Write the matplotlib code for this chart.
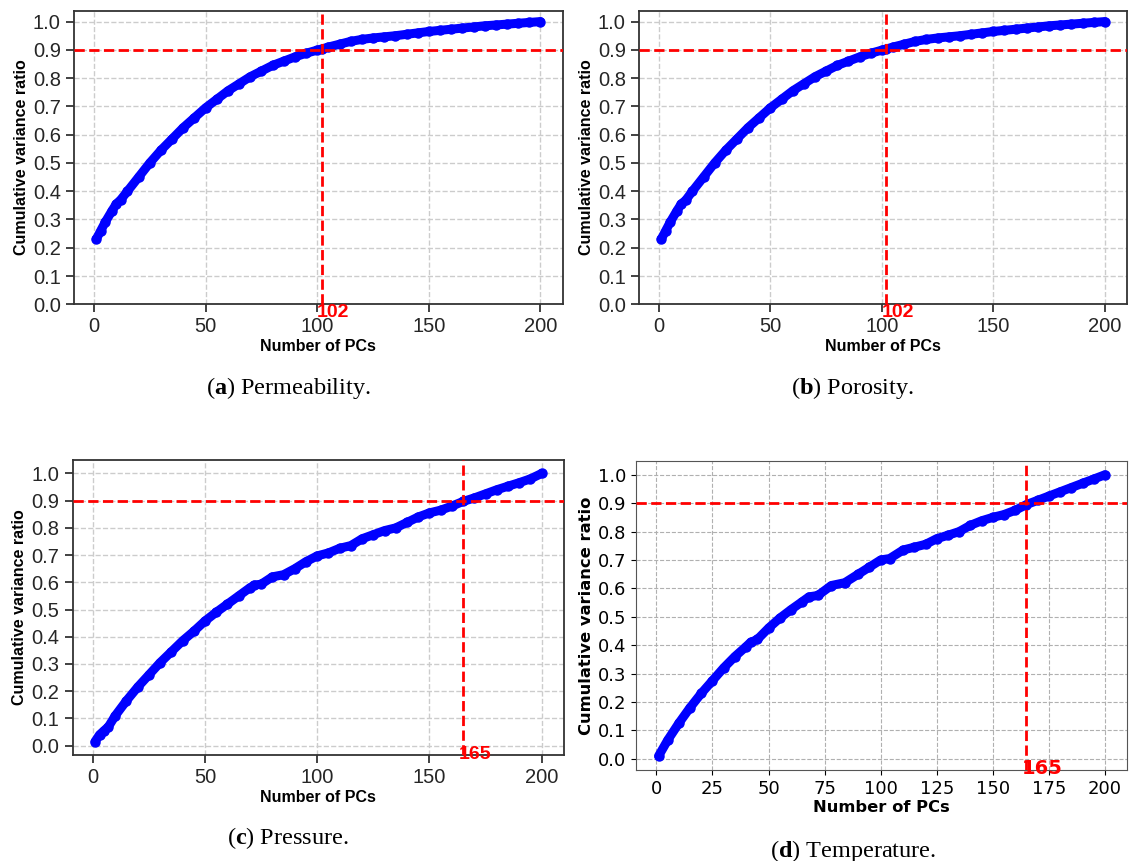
import numpy as np
import matplotlib
matplotlib.use("Agg")
import matplotlib.pyplot as plt

plt.rcParams["mathtext.fontset"] = "custom"
plt.rcParams["mathtext.rm"] = "Liberation Serif"
plt.rcParams["mathtext.bf"] = "Liberation Serif:bold"

# ------------------------------------------------------------------
# data
# ------------------------------------------------------------------
perm_pc = [1, 3, 5, 8, 10, 12, 15, 20, 25, 30, 35, 40, 45, 50, 55, 60, 65, 70,
           75, 80, 85, 90, 95, 100, 102, 105, 110, 115, 120, 125, 130, 135,
           140, 145, 150, 155, 160, 165, 170, 175, 180, 185, 190, 195, 200]
perm_cvr = [0.23, 0.26, 0.29, 0.33, 0.355, 0.37, 0.40, 0.45, 0.50, 0.545, 0.585,
            0.625, 0.66, 0.695, 0.725, 0.755, 0.78, 0.805, 0.825, 0.845, 0.86,
            0.875, 0.888, 0.899, 0.903, 0.91, 0.92, 0.93, 0.937, 0.942, 0.946,
            0.950, 0.955, 0.960, 0.965, 0.969, 0.973, 0.977, 0.981, 0.985,
            0.988, 0.991, 0.994, 0.997, 1.0]

poro_pc = [1, 3, 5, 8, 10, 12, 15, 20, 25, 30, 35, 40, 45, 50, 55, 60, 65, 70,
           75, 80, 85, 90, 95, 100, 102, 105, 110, 115, 120, 125, 130, 135,
           140, 145, 150, 155, 160, 165, 170, 175, 180, 185, 190, 195, 200]
poro_cvr = [0.23, 0.26, 0.29, 0.33, 0.355, 0.368, 0.40, 0.45, 0.50, 0.545, 0.585,
            0.625, 0.66, 0.695, 0.725, 0.755, 0.78, 0.805, 0.825, 0.845, 0.86,
            0.875, 0.888, 0.899, 0.903, 0.91, 0.92, 0.93, 0.937, 0.942, 0.946,
            0.950, 0.955, 0.960, 0.965, 0.969, 0.973, 0.977, 0.981, 0.985,
            0.988, 0.991, 0.994, 0.997, 1.0]

pres_pc = [1, 3, 5, 7, 10, 15, 20, 25, 30, 35, 40, 45, 50, 55, 60, 65, 70, 72,
           75, 80, 85, 90, 95, 100, 105, 110, 115, 120, 125, 130, 135, 140, 145,
           150, 155, 160, 165, 170, 175, 180, 185, 190, 195, 200]
pres_cvr = [0.015, 0.04, 0.055, 0.07, 0.11, 0.165, 0.215, 0.26, 0.305, 0.345,
            0.385, 0.42, 0.458, 0.49, 0.52, 0.55, 0.58, 0.59, 0.593, 0.62, 0.628,
            0.65, 0.676, 0.697, 0.708, 0.725, 0.735, 0.76, 0.775, 0.79, 0.80,
            0.82, 0.84, 0.855, 0.865, 0.88, 0.897, 0.91, 0.925, 0.94, 0.953,
            0.966, 0.98, 1.0]

temp_pc = [1, 5, 10, 15, 20, 25, 30, 35, 40, 42, 45, 50, 55, 60, 65, 68, 72,
           78, 84, 90, 95, 100, 104, 110, 115, 120, 125, 130, 135, 140, 145,
           150, 155, 160, 165, 170, 175, 180, 185, 190, 195, 200]
temp_cvr = [0.01, 0.065, 0.125, 0.18, 0.23, 0.275, 0.32, 0.36, 0.395, 0.41,
            0.42, 0.46, 0.495, 0.525, 0.553, 0.57, 0.575, 0.61, 0.62, 0.65,
            0.675, 0.70, 0.705, 0.735, 0.745, 0.755, 0.775, 0.787, 0.80, 0.822,
            0.838, 0.85, 0.86, 0.875, 0.895, 0.91, 0.925, 0.94, 0.955, 0.97,
            0.985, 1.0]

THRESH = 0.9
perm_k, poro_k, pres_k, temp_k = 102, 102, 165, 165

captions = ["a", "b", "c", "d"]
caption_names = ["Permeability.", "Porosity.", "Pressure.", "Temperature."]

# ------------------------------------------------------------------
# figure
# ------------------------------------------------------------------
W, H = 1129, 861
fig = plt.figure(figsize=(W / 100, H / 100), dpi=100)


def px_axes(left, top, right, bottom):
    return fig.add_axes([left / W, 1 - bottom / H, (right - left) / W, (bottom - top) / H])


def draw_panel(ax, pcs, cvr, k, font, sns_look, floor_zero):
    ax.plot(pcs, cvr, marker="o", color="blue", markersize=6.5, linewidth=6.5,
            solid_capstyle="round", solid_joinstyle="round", zorder=3)
    if floor_zero:
        ax.set_ylim(bottom=0)
    ax.axhline(THRESH, color="red", linestyle="--", linewidth=2, zorder=4)
    ax.axvline(k, color="red", linestyle="--", linewidth=2, zorder=4)
    ax.text(k - 2, 0, str(k), color="red", fontsize=14, fontweight="bold",
            ha="left", va="top", family=font, zorder=5)
    ax.set_yticks(np.arange(0, 1.01, 0.1))
    if sns_look:
        ax.set_xticks(np.arange(0, 201, 50))
        ax.grid(True, linestyle="--", color="#cccccc", linewidth=1)
        for s in ax.spines.values():
            s.set_color("#333333")
            s.set_linewidth(1.3)
        ax.tick_params(direction="out", length=6, width=1.3, color="#333333",
                       labelsize=14.5, labelcolor="#262626")
    else:
        ax.set_xticks(np.arange(0, 201, 25))
        ax.grid(True, linestyle="--", color="#b0b0b0", linewidth=0.8)
        for s in ax.spines.values():
            s.set_color("#555555")
        ax.tick_params(direction="out", labelsize=13)
    for lab in ax.get_xticklabels() + ax.get_yticklabels():
        lab.set_family(font)
    ax.set_axisbelow(True)
    lsize = 11.5 if sns_look else 11.8
    ax.set_xlabel("Number of PCs", fontsize=lsize, fontweight="bold", family=font,
                  labelpad=2)
    ax.set_ylabel("Cumulative variance ratio", fontsize=lsize, fontweight="bold",
                  family=font, labelpad=3)


ax_a = px_axes(74, 10.7, 562.7, 304.3)
draw_panel(ax_a, perm_pc, perm_cvr, perm_k, "Liberation Sans", True, True)

ax_b = px_axes(639, 10.7, 1127, 304.3)
draw_panel(ax_b, poro_pc, poro_cvr, poro_k, "Liberation Sans", True, True)

ax_c = px_axes(72.7, 460, 564, 755)
draw_panel(ax_c, pres_pc, pres_cvr, pres_k, "Liberation Sans", True, False)

ax_d = px_axes(636.3, 460.7, 1127.3, 770)
draw_panel(ax_d, temp_pc, temp_cvr, temp_k, "DejaVu Sans", False, False)

cap_pos = [(288, 388), (853, 388), (288, 838), (853, 851)]
for (cx, cy), letter, name in zip(cap_pos, captions, caption_names):
    fig.text(cx / W, 1 - cy / H, r"($\mathbf{" + letter + r"}$) " + name,
             fontsize=17.5, family="Liberation Serif", ha="center", va="center")

fig.savefig("out.png", dpi=100)
